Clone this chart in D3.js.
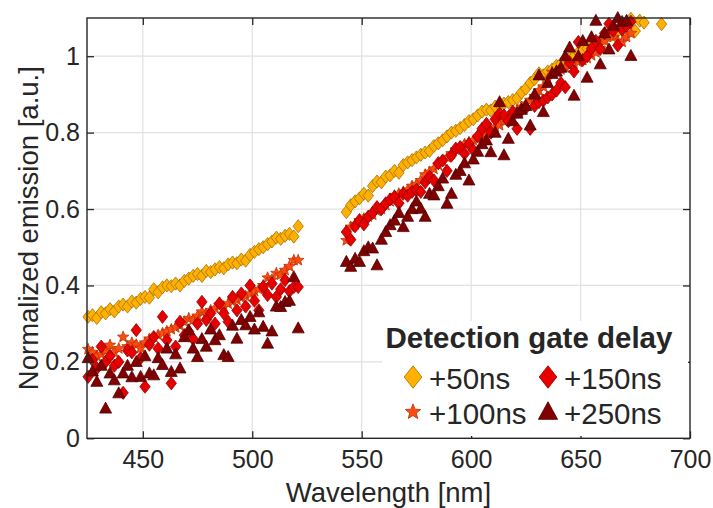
<!DOCTYPE html>
<html><head><meta charset="utf-8">
<script src="https://cdn.jsdelivr.net/npm/d3@7"></script>
<style>
body{margin:0;background:#fff}
svg{display:block}
text{font-family:"Liberation Sans",Arial,Helvetica,sans-serif;fill:#262626}
</style>
</head><body>
<svg id="chart" width="713" height="508"></svg>
<script>
// ---------------- data ----------------
const wlLeft = [425,427,429,431,433,435,437,439,441,443,445,447,449,451,453,455,457,459,461,463,465,467,469,471,473,475,477,479,481,483,485,487,489,491,493,495,497,499,501,503,505,507,509,511,513,515,517,519,521];
const wlRight = [543,545,547,549,551,553,555,557,559,561,563,565,567,569,571,573,575,577,579,581,583,585,587,589,591,593,595,597,599,601,603,605,607,609,611,613,615,617,619,621,623,625,627,629,631,633,635,637,639,641,643,645,647,649,651,653,655,657,659,661,663,665,667,669,671,673];
const wlTail50 = [675,677,679,687];

const y50Left = [.318,.322,.315,.33,.327,.338,.332,.345,.350,.345,.358,.355,.365,.37,.368,.39,.382,.395,.40,.398,.405,.40,.412,.418,.425,.43,.425,.438,.435,.442,.448,.445,.455,.46,.458,.468,.465,.48,.488,.495,.50,.508,.515,.525,.522,.53,.535,.528,.555];
const y50Right = [.592,.61,.62,.628,.64,.635,.66,.672,.67,.685,.688,.70,.695,.715,.722,.728,.735,.742,.748,.752,.765,.772,.78,.79,.80,.805,.812,.82,.83,.835,.845,.855,.86,.858,.868,.872,.876,.88,.885,.89,.905,.915,.93,.94,.955,.95,.96,.965,.975,.98,.99,.995,1.0,1.01,1.015,1.02,1.028,1.035,1.04,1.045,1.055,1.06,1.065,1.07,1.08,1.098];
const y50Tail = [1.066,1.093,1.088,1.084];

const y100Left = [.233,.225,.215,.22,.23,.244,.225,.235,.265,.24,.25,.245,.236,.25,.26,.265,.27,.275,.28,.285,.29,.295,.305,.314,.31,.32,.331,.325,.335,.34,.348,.345,.352,.358,.362,.368,.372,.378,.385,.39,.40,.42,.415,.432,.428,.44,.45,.466,.466];
const y100Right = [.518,.553,.56,.57,.575,.58,.585,.595,.60,.61,.62,.635,.64,.645,.65,.66,.665,.675,.69,.697,.705,.715,.725,.735,.745,.755,.76,.77,.775,.78,.785,.79,.80,.81,.815,.819,.83,.84,.85,.858,.867,.875,.885,.895,.91,.92,.94,.958,.96,.965,.97,.975,.98,.985,.99,.995,1.002,1.01,1.02,1.04,1.06,1.05,1.04,1.037,1.05,1.06];

const y150Left = [.161,.205,.183,.24,.20,.215,.19,.20,.119,.23,.225,.283,.21,.135,.245,.265,.235,.318,.257,.144,.24,.305,.27,.279,.26,.30,.357,.31,.327,.30,.353,.327,.305,.37,.335,.379,.345,.40,.36,.335,.396,.375,.405,.37,.39,.414,.385,.396,.396];
const y150Right = [.54,.52,.555,.571,.56,.58,.59,.605,.60,.615,.625,.632,.615,.64,.635,.645,.65,.645,.67,.684,.675,.72,.727,.70,.74,.758,.762,.745,.77,.754,.79,.81,.823,.80,.835,.85,.845,.83,.855,.81,.858,.865,.81,.87,.88,.884,.892,.90,.91,.93,.919,.984,.96,1.037,.99,1.0,1.02,1.04,1.019,1.06,1.085,1.067,1.028,1.07,1.08,1.09];

const y250Left = [.21,.175,.148,.19,.078,.17,.152,.118,.17,.19,.16,.20,.161,.215,.17,.165,.21,.192,.235,.174,.22,.183,.265,.283,.235,.213,.26,.24,.285,.257,.27,.218,.213,.295,.261,.31,.296,.318,.285,.33,.292,.248,.28,.345,.344,.357,.36,.422,.288];
const y250Right = [.462,.449,.47,.462,.49,.50,.497,.453,.52,.54,.558,.57,.59,.553,.58,.60,.62,.601,.58,.64,.636,.66,.68,.614,.64,.69,.70,.72,.675,.73,.75,.77,.78,.749,.80,.88,.741,.784,.83,.85,.86,.87,.819,.90,.95,.854,.93,.954,.96,.97,1.0,1.023,.897,1.0,1.04,.944,1.05,1.093,.979,1.06,1.018,1.08,1.10,1.09,1.093,1.001];

const seriesNames = ["+50ns","+100ns","+150ns","+250ns"];
const xTicks = [450,500,550,600,650,700];
const yTicks = [0,0.2,0.4,0.6,0.8,1];
const yTickLabels = ["0","0.2","0.4","0.6","0.8","1"];

// ---------------- build ----------------
function pairs(xs, ys){ const out=[]; for(let i=0;i<xs.length;i++){ if(ys[i]!=null) out.push([xs[i],ys[i]]);} return out; }
const series = [
  {name:seriesNames[0], shape:"diamond", fill:"#ffb000", stroke:"#a06c00",
   pts: pairs(wlLeft,y50Left).concat(pairs(wlRight,y50Right), pairs(wlTail50,y50Tail))},
  {name:seriesNames[1], shape:"star", fill:"#ff4a10", stroke:"#b83000",
   pts: pairs(wlLeft,y100Left).concat(pairs(wlRight,y100Right))},
  {name:seriesNames[2], shape:"diamond", fill:"#e80000", stroke:"#8a0000",
   pts: pairs(wlLeft,y150Left).concat(pairs(wlRight,y150Right))},
  {name:seriesNames[3], shape:"triangle", fill:"#820000", stroke:"#4a0000",
   pts: pairs(wlLeft,y250Left).concat(pairs(wlRight,y250Right))}
];

const X0=87, X1=690, Y0=438.3, Y1=18;
const x = d3.scaleLinear().domain([424.5,700]).range([X0,X1]);
const y = d3.scaleLinear().domain([0,1.1]).range([Y0,Y1]);

function shapePath(shape, s){
  if(shape==="diamond"){ const w=5.2*s,h=6.6*s; return `M0,${-h}L${w},0L0,${h}L${-w},0Z`; }
  if(shape==="triangle"){ const w=6.0*s,h=6.4*s; return `M0,${-h}L${w},${h*0.72}L${-w},${h*0.72}Z`; }
  // star
  const R=6.0*s, r=2.6*s; let p="";
  for(let i=0;i<10;i++){ const a=-Math.PI/2+i*Math.PI/5; const rr=i%2?r:R; p+=(i?"L":"M")+(rr*Math.cos(a)).toFixed(2)+","+(rr*Math.sin(a)).toFixed(2);} return p+"Z";
}

const svg = d3.select("#chart");

// grid
const grid = svg.append("g").attr("stroke","#e1e1e1").attr("stroke-width",1.2);
xTicks.filter(t=>t<700).forEach(t=>grid.append("line").attr("x1",x(t)).attr("x2",x(t)).attr("y1",Y0).attr("y2",Y1));
yTicks.filter(t=>t>0).forEach(t=>grid.append("line").attr("x1",X0).attr("x2",X1).attr("y1",y(t)).attr("y2",y(t)));

// data
series.forEach(s=>{
  svg.append("g").selectAll("path").data(s.pts.filter(d=>d[1]<=1.1)).join("path")
    .attr("d",shapePath(s.shape,1))
    .attr("transform",d=>`translate(${x(d[0]).toFixed(2)},${y(d[1]).toFixed(2)})`)
    .attr("fill",s.fill).attr("stroke",s.stroke).attr("stroke-width",0.75);
});

// axes
const axCol="#262626";
function styleAxis(g, hideLabels){
  g.select(".domain").remove();
  g.selectAll(".tick line").attr("stroke",axCol).attr("stroke-width",1.3);
  g.selectAll(".tick text").attr("fill",axCol).style("font-size","25px").style("font-family",'"Liberation Sans",Arial,sans-serif');
  if(hideLabels) g.selectAll(".tick text").remove();
}
svg.append("g").attr("transform",`translate(0,${Y0})`)
  .call(d3.axisBottom(x).tickValues(xTicks).tickFormat(d3.format("d")).tickSize(-7).tickPadding(12))
  .call(g=>styleAxis(g,false));
svg.append("g").attr("transform",`translate(0,${Y1})`)
  .call(d3.axisTop(x).tickValues(xTicks).tickSize(-7)).call(g=>styleAxis(g,true));
svg.append("g").attr("transform",`translate(${X0},0)`)
  .call(d3.axisLeft(y).tickValues(yTicks).tickFormat((d,i)=>yTickLabels[i]).tickSize(-7).tickPadding(7))
  .call(g=>styleAxis(g,false));
svg.append("g").attr("transform",`translate(${X1},0)`)
  .call(d3.axisRight(y).tickValues(yTicks).tickSize(-7)).call(g=>styleAxis(g,true));

svg.append("rect").attr("x",X0).attr("y",Y1).attr("width",X1-X0).attr("height",Y0-Y1)
  .attr("fill","none").attr("stroke",axCol).attr("stroke-width",1.4);

// axis labels
svg.append("text").attr("x",(X0+X1)/2).attr("y",501.5).attr("text-anchor","middle")
  .style("font-size","27.5px").text("Wavelength [nm]");
svg.append("text").attr("transform",`translate(38,${(Y0+Y1)/2}) rotate(-90)`).attr("text-anchor","middle")
  .style("font-size","27.5px").text("Normalized emission [a.u.]");

// legend
const lg = svg.append("g");
lg.append("rect").attr("x",382).attr("y",321).attr("width",306).attr("height",115).attr("fill","#fff");
lg.append("text").attr("x",529).attr("y",348).attr("text-anchor","middle")
  .style("font-size","29.5px").style("font-weight","bold").attr("fill","#000").text("Detection gate delay");
const pos = [[413,377,429,389],[413,412,429,424],[548,377,564,389],[548,412,564,424]];
series.forEach((s,i)=>{
  const p=pos[i];
  const sc = s.shape==="star"?1.35:(s.shape==="triangle"?1.6:1.7);
  lg.append("path").attr("d",shapePath(s.shape,sc)).attr("transform",`translate(${p[0]},${p[1]})`)
    .attr("fill",s.fill).attr("stroke",s.stroke).attr("stroke-width",0.8);
  lg.append("text").attr("x",p[2]).attr("y",p[3]).style("font-size","29.5px").attr("fill","#000").text(s.name);
});
</script>
</body></html>
